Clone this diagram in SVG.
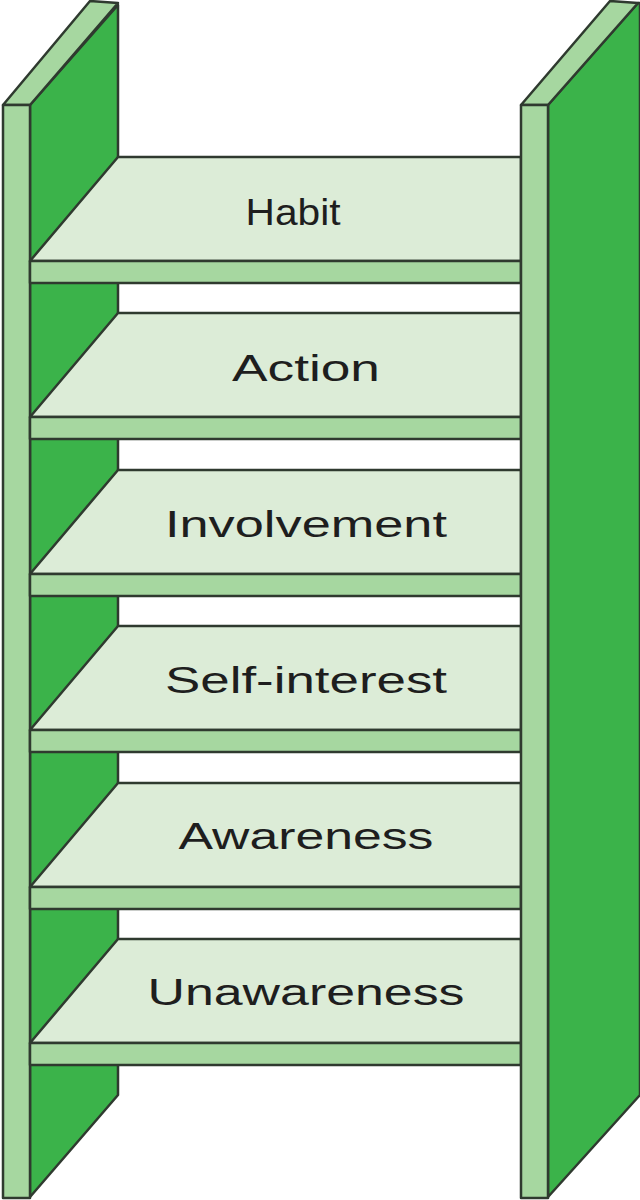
<svg xmlns="http://www.w3.org/2000/svg" width="640" height="1200" viewBox="0 0 640 1200">
<style>
.s{stroke:#2f3a2f;stroke-width:2.5;stroke-linejoin:round}
.d{fill:#3bb34a}.m{fill:#a6d7a0}.p{fill:#dcecd7}
text{font-family:"Liberation Sans",Arial,sans-serif;font-size:37px;fill:#1e1e1e;text-anchor:middle}
</style>
<defs>
<g id="shelf">
<polygon class="s p" points="118,0 521,0 521,104 30,104"/>
<rect class="s m" x="30" y="104" width="491" height="22"/>
</g>
</defs>
<g id="left-post">
<polygon class="s d" points="30,105 118,5 118,1095 30,1197"/>
<polygon class="s m" points="3,105 90,1 118,3 30,105"/>
<rect class="s m" x="3" y="105" width="27" height="1093"/>
</g>
<g id="right-post-side">
<polygon class="s d" points="548,105 638,3 640,3 640,1095 548,1197"/>
</g>
<g id="shelf-habit"><use href="#shelf" y="157"/><text x="293" y="225" textLength="95" lengthAdjust="spacingAndGlyphs">Habit</text></g>
<g id="shelf-action"><use href="#shelf" y="313"/><text x="306" y="381" textLength="148" lengthAdjust="spacingAndGlyphs">Action</text></g>
<g id="shelf-involvement"><use href="#shelf" y="470"/><text x="306" y="537" textLength="282" lengthAdjust="spacingAndGlyphs">Involvement</text></g>
<g id="shelf-self-interest"><use href="#shelf" y="626"/><text x="306" y="693" textLength="282" lengthAdjust="spacingAndGlyphs">Self-interest</text></g>
<g id="shelf-awareness"><use href="#shelf" y="783"/><text x="306" y="849" textLength="255" lengthAdjust="spacingAndGlyphs">Awareness</text></g>
<g id="shelf-unawareness"><use href="#shelf" y="939"/><text x="306" y="1005" textLength="317" lengthAdjust="spacingAndGlyphs">Unawareness</text></g>
<g id="right-post">
<polygon class="s m" points="521,105 610,1 638,3 548,105"/>
<rect class="s m" x="521" y="105" width="27" height="1093"/>
</g>
<g id="connectors"/>
</svg>
